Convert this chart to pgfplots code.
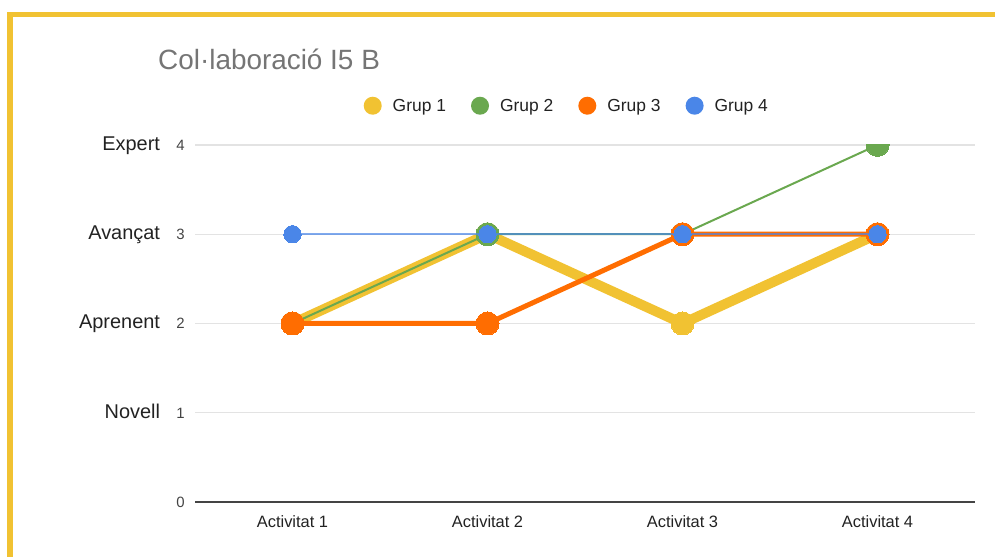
\documentclass[border=0pt]{standalone}
\usepackage{pgfplots}
\pgfplotsset{compat=1.18}
\usepackage{fontspec}
\setmainfont{Liberation Sans}
\definecolor{gyellow}{HTML}{F1C232}
\definecolor{ggreen}{HTML}{6AA84F}
\definecolor{gorange}{HTML}{FF6D01}
\definecolor{gblue}{HTML}{4A86E8}
\definecolor{framec}{HTML}{F1C232}
\definecolor{titlegrey}{HTML}{757575}
\definecolor{txt}{HTML}{222222}
\definecolor{numc}{HTML}{444444}
\definecolor{gridc}{HTML}{E3E3E3}
\definecolor{basec}{HTML}{444444}
\newcommand\nm[1]{{\fontsize{20}{20}\selectfont\color{txt}#1}\hspace{16.5bp}}
\pgfplotsset{clip marker paths=true}
\begin{document}
\begin{tikzpicture}[x=1bp,y=1bp]
\path[use as bounding box] (0,0) rectangle (995,557);
\draw[framec, line width=5.5bp] (10,542.5) rectangle (1030,-30);
\node[anchor=base west, text=titlegrey, font=\fontsize{28}{30}\selectfont, inner sep=0pt] at (158,487) {Col·laboració I5 B};
\begin{axis}[
  at={(195bp,55bp)}, anchor=south west, scale only axis,
  width=780bp, height=357bp,
  xmin=-0.5, xmax=3.5, ymin=0, ymax=4,
  axis line style={draw=none},
  xtick={0,1,2,3},
  xticklabels={Activitat 1,Activitat 2,Activitat 3,Activitat 4},
  ytick={0,1,2,3,4},
  yticklabels={0,\nm{Novell}1,\nm{Aprenent}2,\nm{Avançat}3,\nm{Expert}4},
  major tick length=0pt,
  ymajorgrids, grid style={gridc, line width=1.2bp},
  xticklabel style={font=\fontsize{16.5}{18}\selectfont, text=txt, inner sep=0pt, anchor=base, yshift=-26bp},
  yticklabel style={font=\fontsize{15}{18}\selectfont, text=numc, inner sep=0pt, anchor=base east, xshift=-10bp, yshift=-5.3bp},
  clip marker paths=true,
  clip mode=individual,
  legend columns=4,
  legend style={at={(axis description cs:0.2163,1.110)}, anchor=west, draw=none, fill=none,
    inner sep=0pt, outer sep=0pt, column sep=0pt,
    /tikz/every even column/.append style={column sep=25bp},
    font=\fontsize{17.5}{18}\selectfont, text=txt, nodes={inner sep=0pt}},
  legend image code/.code={\path[draw=none] (0,0) -- (29bp,0); \fill[#1, draw=none, fill opacity=1] (9bp,0) circle (9bp);},
]
\draw[basec, line width=1.3bp] (rel axis cs:0,0) -- (rel axis cs:1,0);
\addplot[gyellow, line width=10bp, line join=round, mark=*, mark size=11.5bp, mark options={line width=0bp, draw=gyellow, fill=gyellow}]
  coordinates {(0,2) (1,3) (2,2) (3,3)};
\addlegendentry{Grup 1}
\addplot[ggreen, line width=2bp, line join=round, mark=*, mark size=11.5bp, mark options={line width=0bp, draw=ggreen, fill=ggreen}]
  coordinates {(0,2) (1,3) (2,3) (3,4)};
\addlegendentry{Grup 2}
\addplot[gorange, line width=5bp, line join=round, mark=*, mark size=11.5bp, mark options={line width=0bp, draw=gorange, fill=gorange}]
  coordinates {(0,2) (1,2) (2,3) (3,3)};
\addlegendentry{Grup 3}
\addplot[gblue, line width=2.5bp, draw opacity=0.7, line join=round, mark=*, mark size=8.7bp, mark options={line width=0bp, draw=gblue, fill=gblue, draw opacity=1}]
  coordinates {(0,3) (1,3) (2,3) (3,3)};
\addlegendentry{Grup 4}
\end{axis}
\end{tikzpicture}
\end{document}
